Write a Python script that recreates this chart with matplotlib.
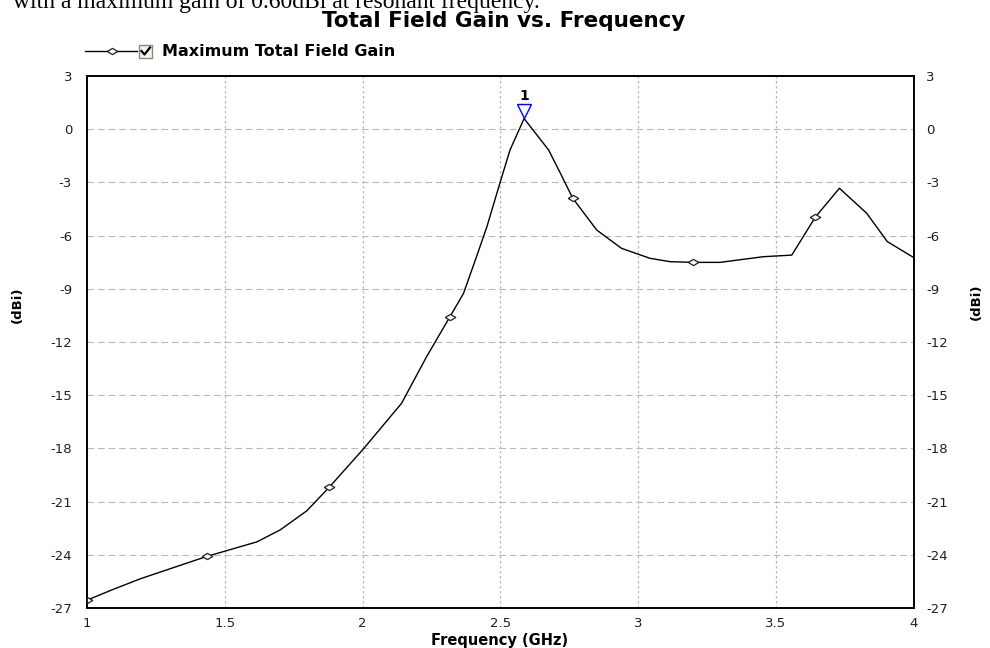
import numpy as np
import matplotlib
matplotlib.use("Agg")
import matplotlib.pyplot as plt
from matplotlib.lines import Line2D
from matplotlib.patches import Rectangle
from matplotlib.transforms import offset_copy

# maximum total field gain sweep (GHz, dBi)
freq = [1.000, 1.094, 1.193, 1.434, 1.616, 1.700, 1.797, 1.879, 2.002, 2.141,
        2.232, 2.317, 2.366, 2.409, 2.451, 2.499, 2.535, 2.586, 2.675, 2.718,
        2.763, 2.850, 2.940, 3.043, 3.116, 3.200, 3.297, 3.455, 3.558, 3.643,
        3.731, 3.830, 3.905, 4.000]
gain = [-26.55, -25.95, -25.35, -24.09, -23.27, -22.60, -21.52, -20.18, -18.04, -15.46,
        -12.83, -10.57, -9.26, -7.38, -5.50, -3.00, -1.17, 0.60, -1.17, -2.49,
        -3.90, -5.69, -6.72, -7.28, -7.47, -7.51, -7.51, -7.19, -7.10, -4.97,
        -3.33, -4.74, -6.34, -7.23]
marker_idx = [0, 3, 7, 11, 20, 25, 29]

xticks = [1, 1.5, 2, 2.5, 3, 3.5, 4]
xtick_labels = ["1", "1.5", "2", "2.5", "3", "3.5", "4"]
yticks = list(range(3, -28, -3))

peak_f = 2.586
peak_g = 0.60

W, H = 990, 648
sans = "DejaVu Sans"

fig = plt.figure(figsize=(W / 100, H / 100), dpi=100)
fig.patch.set_facecolor("white")

def fx(px):
    return px / W

def fy(py):
    return 1 - py / H

ax = fig.add_axes([fx(87.3), fy(608), fx(913.5) - fx(87.3), fy(76) - fy(608)])

diamond = [(-1, 0), (0, 0.6), (1, 0), (0, -0.6), (-1, 0)]

ax.plot(freq, gain, color="black", lw=1.0, marker=diamond, markevery=marker_idx,
        markersize=7.5, mfc="white", mec="#202020", mew=0.9, zorder=3)

# peak marker
tr = offset_copy(ax.transData, fig=fig, x=0, y=5.2, units="points")
ax.plot([peak_f], [peak_g], marker="v", markersize=10.5, mfc="none", mec="#0000ff",
        mew=1.0, transform=tr, zorder=4, clip_on=False)
ax.annotate("1", (peak_f, peak_g), xytext=(0, 16), textcoords="offset points",
            ha="center", va="center", fontsize=10, fontweight="bold",
            family=sans, color="black")

ax.set_xlim(1, 4)
ax.set_ylim(-27, 3)
ax.set_xticks(xticks)
ax.set_xticklabels(xtick_labels)
ax.set_yticks(yticks)
ax.set_yticklabels([str(v) for v in yticks])

for v in yticks[1:-1]:
    ax.axhline(v, color="#b8b8b8", lw=0.8, dashes=(6, 3.5), zorder=1)
for v in xticks[1:-1]:
    ax.axvline(v, color="#b8b8b8", lw=0.9, dashes=(2, 2), zorder=1)

ax.tick_params(axis="both", length=0, labelsize=9.5, colors="#202020")
ax.tick_params(axis="x", pad=6.5)
ax.tick_params(axis="y", pad=11)
for lab in ax.get_xticklabels() + ax.get_yticklabels():
    lab.set_family(sans)
for sp in ax.spines.values():
    sp.set_linewidth(1.2)
    sp.set_color("black")

ax2 = ax.twinx()
ax2.set_ylim(-27, 3)
ax2.set_yticks(yticks)
ax2.set_yticklabels([str(v) for v in yticks])
ax2.tick_params(axis="y", length=0, labelsize=9.5, pad=9, colors="#202020")
for lab in ax2.get_yticklabels():
    lab.set_family(sans)
for sp in ax2.spines.values():
    sp.set_linewidth(1.2)

# axis titles
fig.text(fx(500), fy(641), "Frequency (GHz)", ha="center", va="center",
         fontsize=10.5, fontweight="bold", family=sans)
fig.text(fx(17), fy(305), "(dBi)", ha="center", va="center", rotation=90,
         fontsize=9.5, fontweight="bold", family=sans)
fig.text(fx(976), fy(302), "(dBi)", ha="center", va="center", rotation=90,
         fontsize=9.5, fontweight="bold", family=sans)

fig.text(fx(504), fy(21), "Total Field Gain vs. Frequency", ha="center", va="center",
         fontsize=15.5, fontweight="bold", family=sans)

# caption line cut by the top edge
fig.text(fx(13), fy(8), "with a maximum gain of 0.60dBi at resonant frequency.",
         ha="left", va="baseline", fontsize=17, family="Liberation Serif")

# legend entry with checkbox
fig.add_artist(Line2D([fx(85), fx(137)], [fy(51), fy(51)], color="black", lw=1.0))
fig.add_artist(Line2D([fx(112)], [fy(51)], marker=diamond, markersize=7.5,
                      mfc="white", mec="#202020", mew=0.9, lw=0))
fig.add_artist(Rectangle((fx(139), fy(58)), fx(13), 13 / H, facecolor="#f4f4ee",
                         edgecolor="#8a8a80", lw=1.0))
fig.add_artist(Line2D([fx(141.5), fx(144.5), fx(150)], [fy(51), fy(54.5), fy(47.5)],
                      color="black", lw=1.6))
fig.text(fx(162), fy(52), "Maximum Total Field Gain", ha="left", va="center",
         fontsize=11.5, fontweight="bold", family=sans)

fig.savefig("out.png", dpi=100)
